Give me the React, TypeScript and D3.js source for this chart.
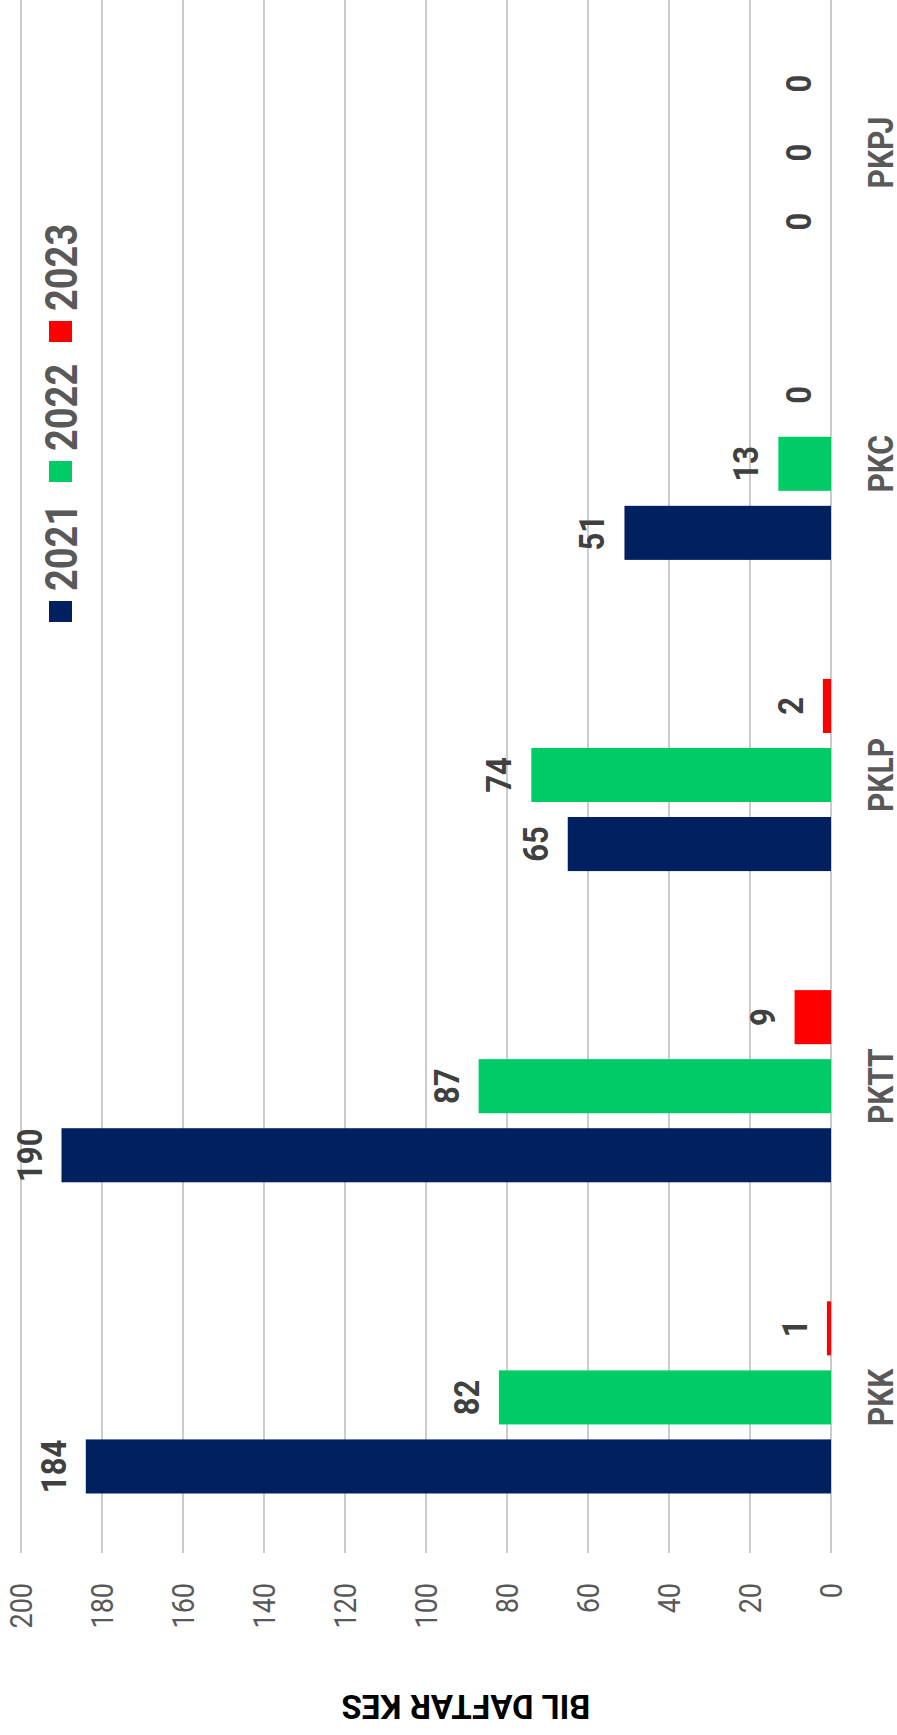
import { useEffect, useRef } from "react"
import * as d3 from "d3"

// chart data, original orientation: categories on the x axis, cases on y
const categories = ["PKK", "PKTT", "PKLP", "PKC", "PKPJ"]
const years = ["2021", "2022", "2023"]
const values2021 = [184, 190, 65, 51, 0]
const values2022 = [82, 87, 74, 13, 0]
const values2023 = [1, 9, 2, 0, 0]
const valueTicks = [0, 20, 40, 60, 80, 100, 120, 140, 160, 180, 200]
const yearColors = ["#002060", "#00cc66", "#ff0000"]
const axisTitle = "BIL DAFTAR KES"

const W = 897
const H = 1735
const SX = 1.16 // the picture is a little stretched across

export default function App() {
    const ref = useRef<SVGSVGElement | null>(null)

    useEffect(() => {
        const svg = d3.select(ref.current)
        svg.selectAll("*").remove()

        const series = [values2021, values2022, values2023]
        const rows = categories.flatMap((c, i) =>
            years.map((yr, j) => ({ cat: c, year: yr, value: series[j][i], color: yearColors[j] })))

        // value axis runs right to left (chart is turned a quarter)
        const x = d3.scaleLinear().domain([0, 200]).range([831, 21])
        const y0 = d3.scaleBand().domain(categories).range([1553, -3])
        const y1 = d3.scaleBand().domain(years).range([y0.bandwidth(), 0])
            .paddingInner(0.217).paddingOuter(0.862)

        svg.append("rect").attr("width", W).attr("height", H).attr("fill", "#ffffff")

        // gridlines
        svg.append("g")
            .selectAll("line")
            .data(valueTicks)
            .join("line")
                .attr("x1", d => x(d)).attr("x2", d => x(d))
                .attr("y1", 0).attr("y2", 1553)
                .attr("stroke", "#bfbfbf")
                .attr("stroke-width", 1.6)

        // tick labels
        svg.append("g")
            .attr("font-family", "Roboto, Arial, sans-serif")
            .attr("font-size", 27)
            .attr("fill", "#595959")
            .attr("text-anchor", "end")
            .selectAll("text")
            .data(valueTicks)
            .join("text")
                .attr("transform", d => `translate(${x(d)},1583) scale(${SX},1) rotate(-90)`)
                .attr("dy", "0.35em")
                .text(d => d)

        // bars
        svg.append("g")
            .selectAll("rect")
            .data(rows)
            .join("rect")
                .attr("x", d => x(d.value))
                .attr("width", d => x(0) - x(d.value))
                .attr("y", d => (y0(d.cat) ?? 0) + (y1(d.year) ?? 0))
                .attr("height", y1.bandwidth())
                .attr("fill", d => d.color)

        // value labels
        svg.append("g")
            .attr("font-family", "Roboto, Arial, sans-serif")
            .attr("font-weight", "bold")
            .attr("font-size", 31)
            .attr("fill", "#404040")
            .attr("text-anchor", "middle")
            .selectAll("text")
            .data(rows)
            .join("text")
                .attr("transform", d => {
                    const cy = (y0(d.cat) ?? 0) + (y1(d.year) ?? 0) + y1.bandwidth() / 2
                    return `translate(${x(d.value) - 20},${cy}) scale(${SX},1) rotate(-90)`
                })
                .text(d => d.value)

        // category labels
        svg.append("g")
            .attr("font-family", "Roboto, Arial, sans-serif")
            .attr("font-weight", "bold")
            .attr("font-size", 30)
            .attr("fill", "#595959")
            .attr("text-anchor", "middle")
            .selectAll("text")
            .data(categories)
            .join("text")
                .attr("transform", d => `translate(893,${(y0(d) ?? 0) + y0.bandwidth() / 2}) scale(${SX},1) rotate(-90)`)
                .text(d => d)

        // legend, reads bottom to top
        const legend = svg.append("g")
            .attr("font-family", "Roboto, Arial, sans-serif")
            .attr("font-weight", "bold")
            .attr("font-size", 38)
            .attr("fill", "#595959")
        years.forEach((yr, i) => {
            const top = 601 - 140 * i
            legend.append("rect")
                .attr("x", 49).attr("y", top)
                .attr("width", 23).attr("height", 21)
                .attr("fill", yearColors[i])
            legend.append("text")
                .attr("transform", `translate(77,${top - 10}) scale(${SX},1) rotate(-90)`)
                .attr("text-anchor", "start")
                .text(yr)
        })

        // axis title, upside down
        svg.append("text")
            .attr("transform", "translate(466,1695) rotate(180)")
            .attr("font-family", "Roboto, Arial, sans-serif")
            .attr("font-weight", "bold")
            .attr("font-size", 33)
            .attr("fill", "#000000")
            .attr("text-anchor", "middle")
            .text(axisTitle)
    }, [])

    return (
        <svg ref={ref} width={W} height={H} viewBox={`0 0 ${W} ${H}`}
            style={{ position: "absolute", left: 0, top: 0, display: "block" }} />
    )
}
